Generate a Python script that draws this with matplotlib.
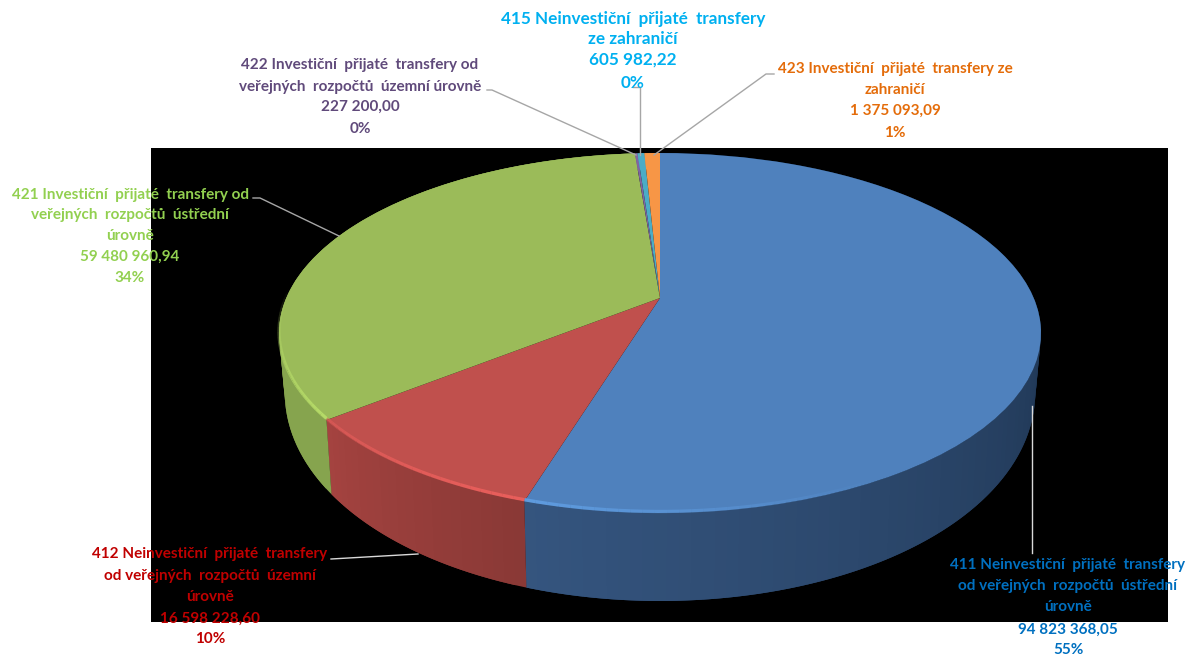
import numpy as np
import matplotlib
matplotlib.use("Agg")
import matplotlib.pyplot as plt
from matplotlib.colors import to_rgb
from matplotlib.patches import Rectangle
from matplotlib.transforms import Transform

# ---- data ----
codes = ["411", "412", "421", "422", "415", "423"]
values = [94823368.05, 16598228.60, 59480960.94, 227200.00, 605982.22, 1375093.09]
value_labels = ["94 823 368,05", "16 598 228,60", "59 480 960,94", "227 200,00", "605 982,22", "1 375 093,09"]
pct_labels = ["55%", "10%", "34%", "0%", "0%", "1%"]
name_lines = [
    ["411 Neinvestiční  přijaté  transfery", "od veřejných  rozpočtů  ústřední", "úrovně"],
    ["412 Neinvestiční  přijaté  transfery", "od veřejných  rozpočtů  územní", "úrovně"],
    ["421 Investiční  přijaté  transfery od", "veřejných  rozpočtů  ústřední", "úrovně"],
    ["422 Investiční  přijaté  transfery od", "veřejných  rozpočtů  územní úrovně"],
    ["415 Neinvestiční  přijaté  transfery", "ze zahraničí"],
    ["423 Investiční  přijaté  transfery ze", "zahraničí"],
]
face_colors = ["#4f81bd", "#c0504d", "#9bbb59", "#8064a2", "#4bacc6", "#f79646"]
wall_near = ["#35557f", "#a54340", "#86a44e", "#6b5488", "#3f90a6", "#cf7d3a"]
wall_far = ["#0b1a2c", "#8a3936", "#86a44e", "#6b5488", "#3f90a6", "#cf7d3a"]
rim_colors = ["#5f9ce0", "#ea5f5c", "#b9df6a", "#8064a2", "#4bacc6", "#f79646"]
text_colors = ["#0070c0", "#c00000", "#92d050", "#604a7b", "#00b0f0", "#e46c0a"]

# ---- layout ----
text_x = [1068, 210, 130, 360, 633, 895]
text_y = [[565, 586, 607, 630, 650], [554, 576, 597, 619, 639], [195, 215, 236, 257, 278],
          [65, 87, 107, 129], [19, 39, 60, 83], [69, 90, 111, 133]]
text_size = [11.0, 11.0, 11.0, 11.0, 12.3, 11.0]
leaders = [
    [(1032, 406), (1032, 553)],
    [(331, 559), (418, 554)],
    [(253, 198), (260, 198), (339, 236)],
    [(487, 90), (492, 90), (636, 155)],
    [(633, 87), (640, 87), (640, 155)],
    [(774, 74), (766, 74), (654, 155)],
]
leader_colors = ["#d9d9d9", "#d9d9d9", "#a6a6a6", "#a6a6a6", "#a6a6a6", "#a6a6a6"]
CX, CY, RX = 660.0, 298.0, 373.7
PERSP, VSCALE = 0.1944, 115.25


class Tilt(Transform):
    """Projects the unit pie onto the tilted top (or bottom) disc, in pixel data units."""
    input_dims = output_dims = 2

    def __init__(self, drop=0.0, drop_front=0.0, squeeze=1.0):
        super().__init__()
        self.drop = drop
        self.drop_front = drop_front
        self.squeeze = squeeze

    def transform_non_affine(self, values):
        values = np.asarray(values, dtype=float)
        u, v = values[:, 0], values[:, 1]
        w = 1 + PERSP * v
        return np.column_stack([CX + self.squeeze * RX * u / w,
                                (CY - VSCALE * v) / w + self.drop - self.drop_front * v])


fig = plt.figure(figsize=(11.88, 6.55), dpi=100, facecolor="white")
ax = fig.add_axes([0, 0, 1, 1])

wedges, _ = ax.pie(values, startangle=90, counterclock=False, colors=face_colors, radius=1)
ax.set_aspect("auto")
ax.set_xlim(0, 1188)
ax.set_ylim(655, 0)
ax.set_frame_on(False)
ax.set_xticks([])
ax.set_yticks([])

ax.add_patch(Rectangle((151, 148), 1017, 474, fc="black", ec="none", zorder=0))

top = Tilt()
bottom = Tilt(drop=52.0, drop_front=36.0, squeeze=0.985)
shares = np.array(values) / np.sum(values)
edges = np.concatenate([[0], np.cumsum(shares)]) * 2 * np.pi


def rim(theta, tr):
    return tr.transform_non_affine(np.column_stack([np.sin(theta), np.cos(theta)]))


# side walls, strip by strip (each overlaps the next so no seams show)
for i in range(len(values)):
    a0, a1 = edges[i], edges[i + 1]
    n = max(2, int(np.degrees(a1 - a0) / 1.5))
    th = np.linspace(a0, a1, n + 1)
    c0, c1 = np.array(to_rgb(wall_near[i])), np.array(to_rgb(wall_far[i]))
    for k in range(n):
        pts = np.linspace(th[k], th[min(k + 2, n)], 5)
        poly = np.vstack([rim(pts, top), rim(pts[::-1], bottom)])
        f = (a1 - th[k]) / (a1 - a0)
        col = c0 * (1 - f) + c1 * f
        ax.fill(poly[:, 0], poly[:, 1], color=col, lw=0, zorder=2)

for w in wedges:
    w.set_transform(top + ax.transData)
    w.set_zorder(3)
    w.set_edgecolor("none")
    w.set_linewidth(0)

# bright front rim
for i in range(len(values)):
    a0, a1 = edges[i], edges[i + 1]
    th = np.linspace(a0, a1, max(2, int(np.degrees(a1 - a0) / 1.5)) + 1)
    for k in range(len(th) - 1):
        mid = 0.5 * (th[k] + th[k + 1])
        strength = np.clip(-np.cos(mid) * 1.6 - 0.55, 0, 1)
        if i == 0:
            strength *= np.clip((mid - np.radians(150)) / np.radians(47), 0, 1)
        if i == 2:
            strength = np.clip(0.9 - (mid - a0) / np.radians(45), 0, 0.9)
        if strength <= 0:
            continue
        seg = rim(np.array([th[k], th[k + 1]]), Tilt(drop=-1.5))
        ax.plot(seg[:, 0], seg[:, 1], color=rim_colors[i], lw=2.4, alpha=strength,
                solid_capstyle="butt", zorder=4)

# leader lines
for pts, col in zip(leaders, leader_colors):
    xs, ys = zip(*pts)
    ax.plot(xs, ys, color=col, lw=1.0, zorder=5)

# labels
for i in range(len(values)):
    lines = name_lines[i] + [value_labels[i], pct_labels[i]]
    for line, y in zip(lines, text_y[i]):
        ax.text(text_x[i], y, line, ha="center", va="center", color=text_colors[i],
                fontsize=text_size[i], fontweight="bold", family="Lato", zorder=6)

fig.savefig("out.png", dpi=100, facecolor="white")
